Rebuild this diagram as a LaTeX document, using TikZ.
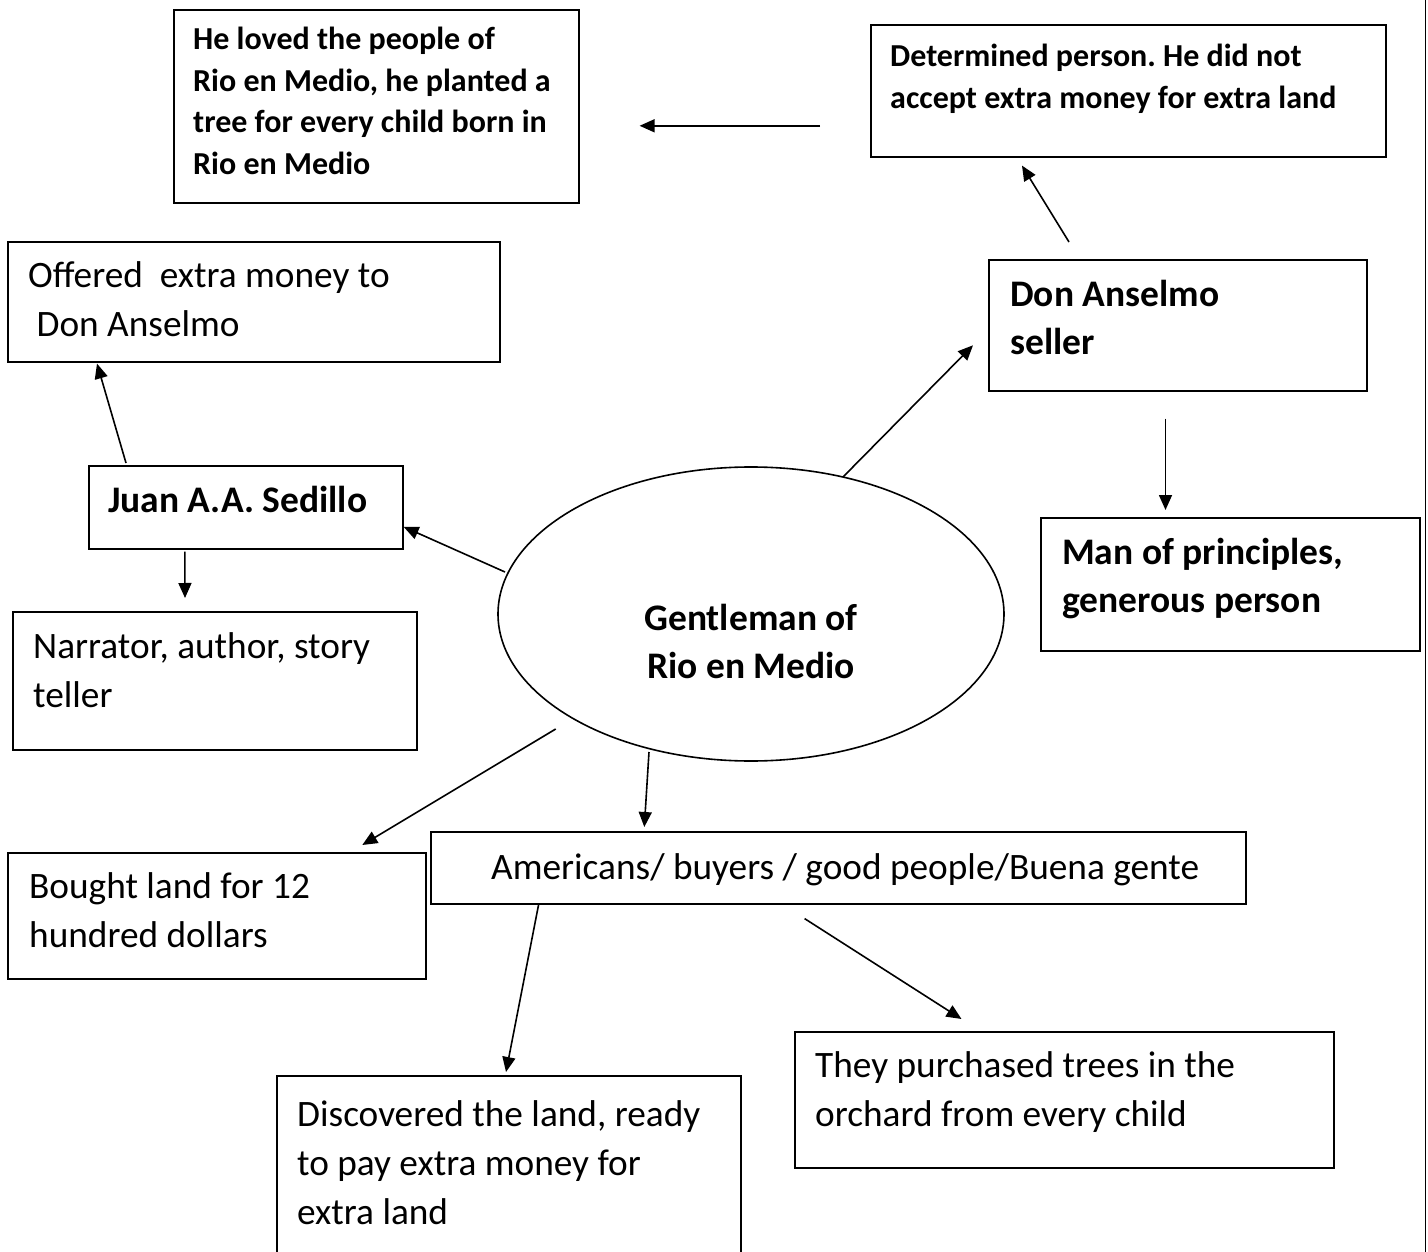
\documentclass[tikz,border=0pt]{standalone}
\usepackage{fontspec}
\setmainfont{Carlito}
\frenchspacing
\usetikzlibrary{arrows.meta,shapes.geometric}
\tikzset{
  box/.style={draw, line width=1.6pt, rectangle, anchor=north west, inner sep=0pt},
  arr/.style={-{Triangle[length=15pt,width=13pt]}, line width=1.6pt},
  % text nodes are placed at the baseline of their last line
  txtreg/.style={font=\fontsize{37.3}{49}\selectfont, anchor=base west, align=left, inner sep=0pt},
  txtbold/.style={font=\fontsize{37.5}{48}\selectfont\bfseries, anchor=base west, align=left, inner sep=0pt},
  txtsmall/.style={font=\fontsize{32}{41.5}\selectfont\bfseries, anchor=base west, align=left, inner sep=0pt},
}
\begin{document}
\begin{tikzpicture}[x=1pt, y=-1pt]
\useasboundingbox (0,0) rectangle (1428,1252);
\clip (0,0) rectangle (1428,1252);
\fill[white] (0,0) rectangle (1428,1252);

% boxes
\node[box, minimum width=405pt, minimum height=193pt] (tl) at (173,9) {};
\node[box, minimum width=515pt, minimum height=132pt] (det) at (870,24) {};
\node[box, minimum width=492pt, minimum height=120pt] (off) at (7,241) {};
\node[box, minimum width=378pt, minimum height=131pt] (don) at (988,259) {};
\node[box, minimum width=314pt, minimum height=83pt] (juan) at (88,465) {};
\node[box, minimum width=379pt, minimum height=133pt] (man) at (1040,517) {};
\node[box, minimum width=404pt, minimum height=138pt] (nar) at (12,611) {};
\node[box, minimum width=418pt, minimum height=126pt] (bought) at (7,852) {};
\node[box, minimum width=815pt, minimum height=72pt] (am) at (430,831) {};
\node[box, minimum width=464pt, minimum height=200pt] (disc) at (276,1075) {};
\node[box, minimum width=539pt, minimum height=136pt] (they) at (794,1031) {};
\node[draw, ellipse, line width=1.6pt, minimum width=506pt, minimum height=294pt, inner sep=0pt] (g) at (751,614) {};

% texts
\node[txtsmall] (tltxt) at (193,174.5) {He loved the people of\\Rio en Medio, he planted a\\tree for every child born in\\Rio en Medio};
\node[txtsmall] (dettxt) at (890,108.5) {Determined person. He did not\\accept extra money for extra land};
\node[txtreg] (offtxt) at (28,337) {Offered\ \ extra money to\\{}\ Don Anselmo};
\node[txtbold] (dontxt) at (1010,354) {Don Anselmo\\seller};
\node[txtbold] (juantxt) at (108,512) {Juan A.A. Sedillo};
\node[txtbold] (mantxt) at (1062,612) {Man of principles,\\generous person};
\node[txtbold, anchor=base, align=center] (gtxt) at (751,678) {Gentleman of\\Rio en Medio};
\node[txtreg] (nartxt) at (33,707) {Narrator, author, story\\teller};
\node[txtreg] (boughttxt) at (29,947) {Bought land for 12\\hundred dollars};
\node[txtreg] (amtxt) at (491,879) {Americans/ buyers / good people/Buena gente};
\node[txtreg] (disctxt) at (297,1224) {Discovered the land, ready\\to pay extra money for\\extra land};
\node[txtreg] (theytxt) at (815,1126) {They purchased trees in the\\orchard from every child};

% connectors
\draw[arr] ([shift={(-50,35)}]det.west) -- ([shift={(60,19.5)}]tl.east);
\draw[arr] ([shift={(38,-2)}]juan.north west) -- ([shift={(90,1)}]off.south west);
\draw[arr] ([shift={(-246,-42)}]g.center) -- ([shift={(0,19.5)}]juan.east);
\draw[arr] ([shift={(-61,2)}]juan.south) -- ([shift={(173,-13)}]nar.north west);
\draw[arr] ([shift={(92,-137)}]g.center) -- ([shift={(-15,20)}]don.west);
\draw[arr] ([shift={(81,-17)}]don.north west) -- ([shift={(152,8)}]det.south west);
\draw[arr] ([shift={(177.5,27)}]don.south west) -- ([shift={(125.5,-7)}]man.north west);
\draw[arr] ([shift={(-195.3,115)}]g.center) -- ([shift={(355.3,-7)}]bought.north west);
\draw[arr] ([shift={(-102,138)}]g.center) -- ([shift={(214.3,-4)}]am.north west);
\draw[arr] ([shift={(108.6,0)}]am.south west) -- ([shift={(230,-3)}]disc.north west);
\draw[arr] ([shift={(374.6,14)}]am.south west) -- ([shift={(167.5,-12)}]they.north west);

% right page edge rule
\draw[line width=1.5pt] (1425.5,0) -- (1425.5,1252);
\end{tikzpicture}
\end{document}
